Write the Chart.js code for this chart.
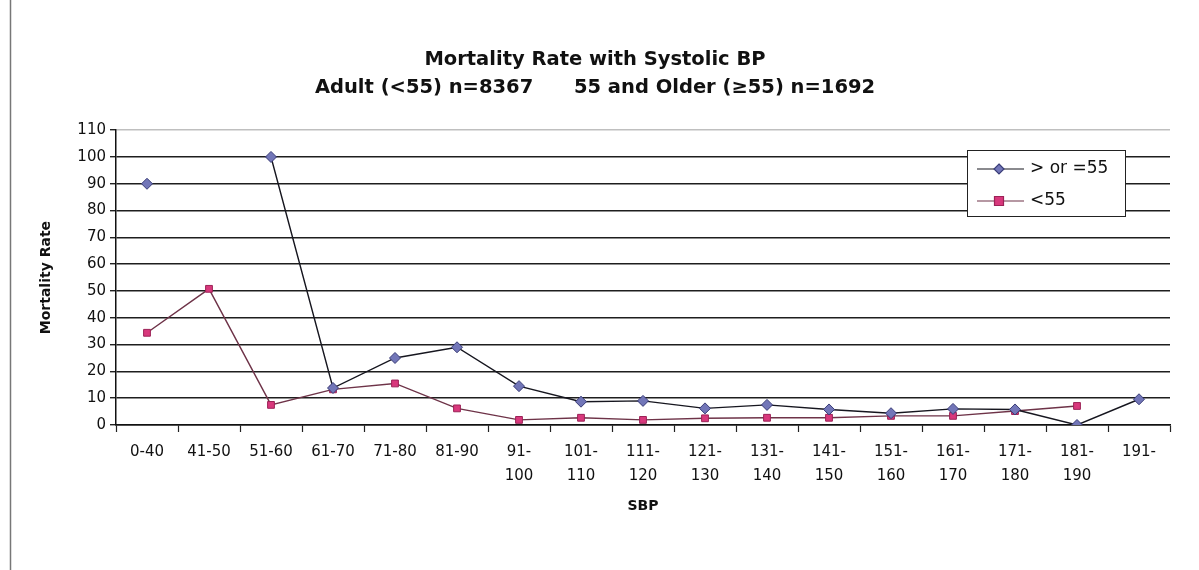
<!DOCTYPE html>
<html>
<head>
<meta charset="utf-8">
<script src="https://cdn.jsdelivr.net/npm/chart.js@4/dist/chart.umd.min.js"></script>
<style>
  html, body { margin: 0; padding: 0; background: #fff; }
  #wrap { width: 1199px; height: 570px; }
</style>
</head>
<body>
<div id="wrap"><canvas id="sbpChart" width="1199" height="570"></canvas></div>
<script>
const categories = [
    ['0-40'], ['41-50'], ['51-60'], ['61-70'], ['71-80'], ['81-90'],
    ['91-', '100'], ['101-', '110'], ['111-', '120'], ['121-', '130'],
    ['131-', '140'], ['141-', '150'], ['151-', '160'], ['161-', '170'],
    ['171-', '180'], ['181-', '190'], ['191-']
];
const older = [90, null, 100, 13.8, 25, 29, 14.5, 8.7, 9, 6.2, 7.5, 5.8, 4.4, 6, 5.8, 0, 9.6];
const adult = [34.4, 50.8, 7.5, 13.3, 15.5, 6.2, 1.9, 2.7, 1.9, 2.5, 2.7, 2.7, 3.4, 3.4, 5.2, 7.1, null];
const seriesNames = ['> or =55', '<55'];
const yTicks = [0, 110, 10]; // min, max, step

const FONT = '"DejaVu Sans", "Liberation Sans", Arial, sans-serif';

// frame + inset legend, drawn from the dataset list
const extras = {
    id: 'extras',
    beforeDraw(chart) {
        const c = chart.ctx;
        c.save();
        c.fillStyle = '#fff';
        c.fillRect(0, 0, chart.width, chart.height);
        c.strokeStyle = '#777';
        c.lineWidth = 1.5;
        c.beginPath();
        c.moveTo(10.5, 0);
        c.lineTo(10.5, chart.height);
        c.stroke();
        c.restore();
    },
    afterDraw(chart) {
        const c = chart.ctx;
        const x = 967, y = 150, w = 158, h = 66;
        c.save();
        c.fillStyle = '#fff';
        c.fillRect(x, y, w, h);
        c.strokeStyle = '#222';
        c.lineWidth = 1;
        c.strokeRect(x + 0.5, y + 0.5, w, h);
        c.font = '17px ' + FONT;
        c.textBaseline = 'middle';
        chart.data.datasets.forEach((ds, i) => {
            const ly = y + 19 + i * 32;
            const mx = x + 32;
            c.strokeStyle = ds.borderColor;
            c.lineWidth = 1.2;
            c.beginPath();
            c.moveTo(x + 10, ly);
            c.lineTo(x + 57, ly);
            c.stroke();
            c.fillStyle = ds.pointBackgroundColor;
            c.strokeStyle = ds.pointBorderColor;
            c.beginPath();
            if (ds.pointStyle === 'rectRot') {
                c.moveTo(mx, ly - 5);
                c.lineTo(mx + 5, ly);
                c.lineTo(mx, ly + 5);
                c.lineTo(mx - 5, ly);
                c.closePath();
            } else {
                c.rect(mx - 4.5, ly - 4.5, 9, 9);
            }
            c.fill();
            c.stroke();
            c.fillStyle = '#111';
            c.fillText(ds.label, x + 63, ly);
        });
        c.restore();
    }
};

const ctx = document.getElementById('sbpChart').getContext('2d');
const sbpChart = new Chart(ctx, {
    type: 'line',
    data: {
        labels: categories,
        datasets: [{
            label: seriesNames[0],
            data: older,
            borderColor: '#16161f',
            borderWidth: 1.4,
            pointStyle: 'rectRot',
            pointRadius: 5.5,
            pointBackgroundColor: '#7276b8',
            pointBorderColor: '#3a3d78',
            pointBorderWidth: 1,
            spanGaps: false,
            tension: 0
        }, {
            label: seriesNames[1],
            data: adult,
            borderColor: '#6e3348',
            borderWidth: 1.4,
            pointStyle: 'rect',
            pointRadius: 4.8,
            pointBackgroundColor: '#d8387c',
            pointBorderColor: '#9c2257',
            pointBorderWidth: 1,
            spanGaps: false,
            tension: 0
        }]
    },
    options: {
        responsive: false,
        animation: false,
        layout: { padding: { left: 20, right: 29, top: 18, bottom: 50 } },
        scales: {
            x: {
                offset: true,
                grid: {
                    display: true,
                    offset: true,
                    drawOnChartArea: false,
                    drawTicks: true,
                    tickLength: 7,
                    tickColor: '#222',
                    tickWidth: 1.2
                },
                border: { display: true, color: '#111', width: 1.5 },
                ticks: {
                    color: '#111',
                    font: { family: FONT, size: 15, lineHeight: 1.6 },
                    maxRotation: 0,
                    autoSkip: false,
                    padding: 8
                },
                title: {
                    display: true,
                    text: 'SBP',
                    color: '#111',
                    font: { family: FONT, size: 14, weight: 'bold' },
                    padding: { top: 12, bottom: 5 }
                },
                afterFit(scale) { scale.height = 95; }
            },
            y: {
                min: yTicks[0],
                max: yTicks[1],
                ticks: {
                    stepSize: yTicks[2],
                    color: '#111',
                    font: { family: FONT, size: 15 },
                    padding: 4
                },
                grid: {
                    color: ctx => ctx.tick.value === yTicks[1] ? 'rgba(0,0,0,0.25)' : '#1e1e1e',
                    lineWidth: 1.4,
                    drawTicks: true,
                    tickLength: 6,
                    tickColor: '#222'
                },
                border: { display: true, color: '#111', width: 1.5 },
                title: {
                    display: true,
                    text: 'Mortality Rate',
                    color: '#111',
                    font: { family: FONT, size: 14, weight: 'bold' },
                    padding: { top: 18, bottom: 8 }
                },
                afterFit(scale) { scale.width = 96; }
            }
        },
        plugins: {
            legend: { display: false },
            tooltip: { enabled: false },
            title: {
                display: true,
                text: ['Mortality Rate with Systolic BP',
                       'Adult (<55) n=8367      55 and Older (\u226555) n=1692'],
                color: '#111',
                font: { family: FONT, size: 19.5, weight: 'bold', lineHeight: 1.44 },
                padding: { top: 28, bottom: 28 }
            }
        }
    },
    plugins: [extras]
});
</script>
</body>
</html>
